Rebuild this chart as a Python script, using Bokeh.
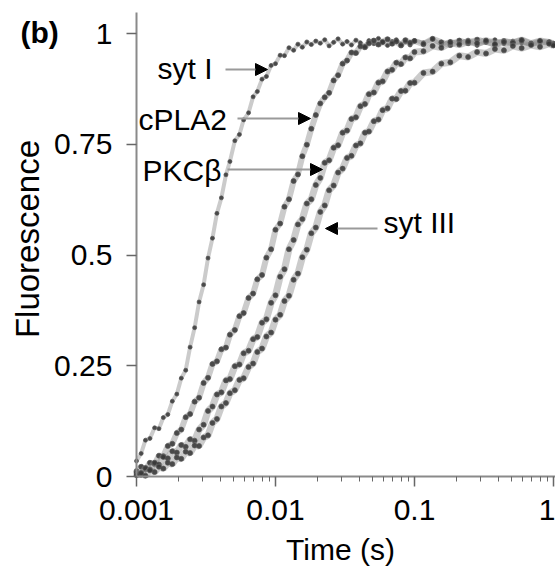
from math import pi
from bokeh.plotting import figure
from bokeh.models import FixedTicker, Label, Arrow, NormalHead, Range1d
from bokeh.embed import file_html
from bokeh.resources import INLINE

# ---- data (time in s, normalised fluorescence) ----
time_s = [0.00100, 0.00108, 0.00116, 0.00125, 0.00135, 0.00145, 0.00156, 0.00168, 0.00181, 0.00195,
          0.0021, 0.00226, 0.00243, 0.00262, 0.00282, 0.00304, 0.00327, 0.00352, 0.00379, 0.00408,
          0.0044, 0.0047, 0.0051, 0.0055, 0.0059, 0.0064, 0.0069, 0.0074, 0.0080, 0.0086,
          0.0093, 0.0100, 0.0108, 0.0116, 0.0125, 0.0135, 0.0145, 0.0156, 0.0168, 0.0181,
          0.0195, 0.021, 0.0226, 0.0243, 0.0262, 0.0282, 0.0304, 0.0327, 0.0352, 0.0379,
          0.0408, 0.044, 0.047, 0.051, 0.055, 0.059, 0.064, 0.069, 0.074, 0.080,
          0.086, 0.093, 0.100, 0.116, 0.135, 0.156, 0.181, 0.21, 0.243, 0.282,
          0.327, 0.379, 0.44, 0.51, 0.59, 0.69, 0.80, 0.93, 1.0]

syt_I = [0.035, 0.052, 0.082, 0.086, 0.110, 0.108, 0.133, 0.140, 0.170, 0.186,
         0.222, 0.240, 0.292, 0.336, 0.394, 0.433, 0.493, 0.538, 0.594, 0.629,
         0.681, 0.711, 0.758, 0.772, 0.805, 0.821, 0.857, 0.869, 0.897, 0.903,
         0.928, 0.932, 0.951, 0.950, 0.968, 0.962, 0.976, 0.969, 0.981,
         0.975, 0.983, 0.978, 0.986, 0.972, 0.980, 0.988, 0.976, 0.982, 0.974,
         0.985, 0.979, 0.971, 0.984, 0.977, 0.989, 0.980, 0.973, 0.982, 0.986,
         0.976, 0.981, 0.974, 0.984, 0.979, 0.987, 0.975, 0.982, 0.978, 0.985,
         0.973, 0.981, 0.986, 0.977, 0.983, 0.979, 0.975, 0.984, 0.980, 0.978]

cPLA2 = [0.012, 0.022, 0.016, 0.031, 0.028, 0.047, 0.046, 0.069, 0.074, 0.098,
         0.106, 0.134, 0.141, 0.169, 0.178, 0.211, 0.223, 0.254, 0.260, 0.287,
         0.291, 0.320, 0.331, 0.362, 0.369, 0.403, 0.413, 0.445, 0.455, 0.494,
         0.513, 0.557, 0.571, 0.609, 0.626, 0.667, 0.682, 0.723, 0.749, 0.785,
         0.816, 0.842, 0.856, 0.866, 0.894, 0.906, 0.932, 0.939, 0.957, 0.956,
         0.971, 0.969, 0.978, 0.984, 0.975, 0.981, 0.987, 0.977, 0.982, 0.973,
         0.985, 0.979, 0.983, 0.976, 0.988, 0.980, 0.974, 0.984, 0.978, 0.986,
         0.981, 0.975, 0.983, 0.979, 0.985, 0.977, 0.982, 0.980, 0.976]

PKCb = [0.008, 0.004, 0.019, 0.016, 0.031, 0.027, 0.044, 0.041, 0.057, 0.054,
        0.071, 0.067, 0.084, 0.081, 0.106, 0.117, 0.148, 0.158, 0.185, 0.190,
        0.217, 0.220, 0.249, 0.253, 0.278, 0.284, 0.310, 0.315, 0.347, 0.355,
        0.392, 0.409, 0.451, 0.468, 0.513, 0.534, 0.569, 0.581, 0.616, 0.626,
        0.658, 0.674, 0.708, 0.714, 0.742, 0.748, 0.776, 0.781, 0.807, 0.811,
        0.836, 0.841, 0.863, 0.867, 0.889, 0.892, 0.914, 0.918, 0.934, 0.931,
        0.946, 0.944, 0.958, 0.960, 0.972, 0.968, 0.980, 0.975, 0.982, 0.978,
        0.984, 0.976, 0.981, 0.979, 0.985, 0.977, 0.983, 0.980, 0.976]

syt_III = [0.003, 0.008, 0.002, 0.014, 0.010, 0.022, 0.018, 0.031, 0.028, 0.043,
           0.040, 0.056, 0.053, 0.070, 0.069, 0.088, 0.093, 0.121, 0.130, 0.158,
           0.166, 0.188, 0.195, 0.218, 0.222, 0.247, 0.255, 0.281, 0.289, 0.316,
           0.325, 0.354, 0.365, 0.396, 0.408, 0.444, 0.458, 0.495, 0.512, 0.549,
           0.562, 0.597, 0.612, 0.646, 0.657, 0.686, 0.695, 0.719, 0.724, 0.747,
           0.752, 0.776, 0.779, 0.802, 0.806, 0.827, 0.831, 0.853, 0.852, 0.870,
           0.871, 0.888, 0.889, 0.911, 0.914, 0.932, 0.935, 0.950, 0.947, 0.958,
           0.955, 0.965, 0.962, 0.972, 0.967, 0.974, 0.970, 0.977, 0.973]

x_ticks = [0.001, 0.01, 0.1, 1]
x_tick_labels = ["0.001", "0.01", "0.1", "1"]
y_ticks = [0, 0.25, 0.5, 0.75, 1]
y_tick_labels = ["0", "0.25", "0.5", "0.75", "1"]

ann_names = ["syt I", "cPLA2", "PKC\u03b2", "syt III"]
ann_text_x = [0.001416, 0.001034, 0.001104, 0.05984]
ann_text_y = [0.920, 0.807, 0.690, 0.5745]
arrow_x0 = [0.004368, 0.005328, 0.004515, 0.05418]
arrow_x1 = [0.008758, 0.01786, 0.02178, 0.02289]
arrow_y = [0.9187, 0.8081, 0.6930, 0.5598]

FONT = "Liberation Sans"

# the frame spans the whole canvas; axes are pinned at x=0.001 and y=0
p = figure(width=555, height=569, x_axis_type="log",
           x_range=Range1d(0.0001051, 1.0337), y_range=Range1d(-0.2099, 1.0745),
           output_backend="svg", toolbar_location=None, min_border=0)

p.outline_line_color = None
p.grid.grid_line_color = None
p.background_fill_color = "white"
p.title.visible = False

xa, ya = p.xaxis[0], p.yaxis[0]
xa.fixed_location = 0
ya.fixed_location = 0.001
xa.bounds = (0.001, 1.0337)
ya.bounds = (0, 1.047)

xa.ticker = FixedTicker(ticks=x_ticks,
                        minor_ticks=[m * d for d in (0.001, 0.01, 0.1) for m in range(2, 10)])
ya.ticker = FixedTicker(ticks=y_ticks)
xa.major_label_overrides = {t: s for t, s in zip(x_ticks, x_tick_labels)}
ya.major_label_overrides = {t: s for t, s in zip(y_ticks, y_tick_labels)}
for ax in (xa, ya):
    ax.axis_line_color = "#8a8a8a"
    ax.axis_line_width = 2
    ax.major_tick_line_color = "#666666"
    ax.major_tick_line_width = 1.5
    ax.major_tick_out = 10
    ax.major_tick_in = 0
    ax.major_label_text_font = FONT
    ax.major_label_text_font_size = "30px"
    ax.major_label_text_color = "black"
xa.minor_tick_line_color = "#666666"
xa.minor_tick_out = 5
xa.minor_tick_in = 0
ya.minor_tick_line_color = None
xa.major_label_standoff = 13
ya.major_label_standoff = 14

# data: faint band plus dots for every series
for ys, sz, bw in ((syt_I, 4, 4), (cPLA2, 5, 6), (PKCb, 5, 7), (syt_III, 5, 7)):
    p.line(time_s, ys, line_color="#8c8c8c", line_width=bw, line_alpha=0.45)
    p.scatter(time_s, ys, size=sz, fill_color="#333333", line_color="#555555",
              fill_alpha=0.85, line_alpha=0.7)

# annotations with arrows
for name, tx, ty, x0, x1, ay in zip(ann_names, ann_text_x, ann_text_y, arrow_x0, arrow_x1, arrow_y):
    p.add_layout(Label(x=tx, y=ty, text=name, text_font=FONT, text_font_size="30px",
                       text_align="left", text_baseline="middle", text_color="black"))
    p.add_layout(Arrow(x_start=x0, y_start=ay, x_end=x1, y_end=ay,
                       line_color="#9a9a9a", line_width=2,
                       end=NormalHead(size=12, fill_color="black", line_color="black")))

# panel letter and axis titles
p.add_layout(Label(x=0.0001464, y=1.002, text="(b)", text_font=FONT, text_font_size="30px",
                   text_font_style="bold", text_align="left", text_baseline="middle",
                   text_color="black"))
p.add_layout(Label(x=0.0001657, y=0.536, text="Fluorescence", text_font=FONT,
                   text_font_size="33px", angle=pi / 2, text_align="center",
                   text_baseline="middle", text_color="black"))
p.add_layout(Label(x=0.02935, y=-0.165, text="Time (s)", text_font=FONT,
                   text_font_size="30px", text_align="center", text_baseline="middle",
                   text_color="black"))

open("out.html", "w").write(file_html(p, INLINE))
